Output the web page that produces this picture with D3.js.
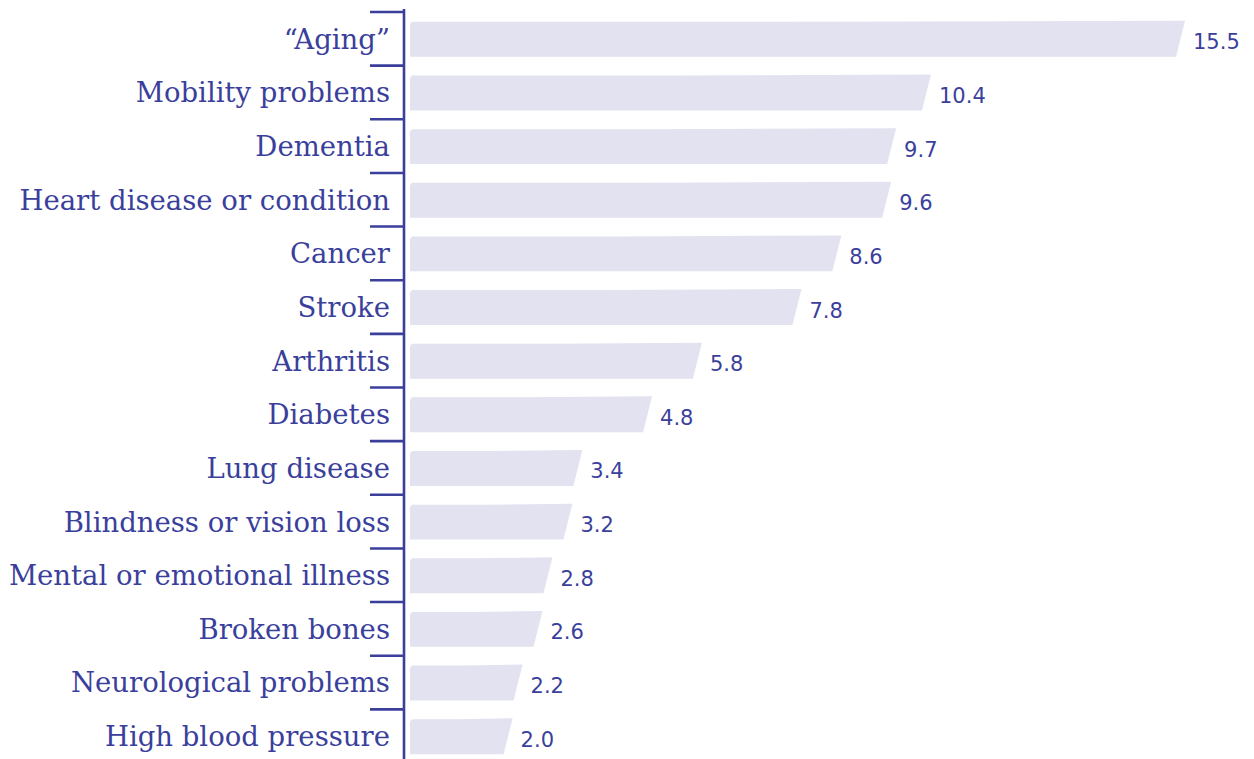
<!DOCTYPE html>
<html>
<head>
<meta charset="utf-8">
<script src="https://cdn.jsdelivr.net/npm/d3@7/dist/d3.min.js"></script>
<style>
  html, body { margin: 0; padding: 0; background: #ffffff; }
  svg { display: block; }
</style>
</head>
<body>
<svg id="chart" width="1254" height="759"></svg>
<script>
const categories = [
  "\u201cAging\u201d",
  "Mobility problems",
  "Dementia",
  "Heart disease or condition",
  "Cancer",
  "Stroke",
  "Arthritis",
  "Diabetes",
  "Lung disease",
  "Blindness or vision loss",
  "Mental or emotional illness",
  "Broken bones",
  "Neurological problems",
  "High blood pressure"
];
const values = [15.5, 10.4, 9.7, 9.6, 8.6, 7.8, 5.8, 4.8, 3.4, 3.2, 2.8, 2.6, 2.2, 2.0];
const valueLabels = ["15.5", "10.4", "9.7", "9.6", "8.6", "7.8", "5.8", "4.8", "3.4", "3.2", "2.8", "2.6", "2.2", "2.0"];

const ink = "#3b3f9c";
const barFill = "#e2e2f0";

const svg = d3.select("#chart");

const x = d3.scaleLinear().domain([0, 15.5]).range([409, 1181]);
const pad = 0.33;
const y = d3.scaleBand().domain(categories).range([12, 763]).paddingInner(pad).paddingOuter(pad / 2);
const step = y.step();
const axisX = 404;

// bars
svg.append("g").selectAll("path")
  .data(categories)
  .join("path")
  .attr("fill", barFill)
  .attr("d", (c, i) => {
    const top = y(c), bot = y(c) + y.bandwidth();
    const x0 = x(0), xr = x(values[i]);
    return `M${x0 + 3},${top + 1} Q${x0},${top + 3} ${x0 + 1},${top + 8}` +
           ` L${x0 + 1},${bot} L${xr - 5},${bot} L${xr + 4},${top} L${(x0 + xr) / 2},${top + 1} Z`;
  });

// value labels
svg.append("g").selectAll("text")
  .data(categories)
  .join("text")
  .attr("x", (c, i) => x(values[i]) + 12)
  .attr("y", c => y(c) + y.bandwidth() / 2)
  .attr("dy", "0.5em")
  .attr("fill", ink)
  .attr("font-family", "DejaVu Sans, sans-serif")
  .attr("font-size", 21)
  .text((c, i) => valueLabels[i]);

// axis line and ticks at band boundaries
const axis = svg.append("g").attr("stroke", ink).attr("stroke-width", 2.6);
const boundaries = categories.map(c => y(c) - step * pad / 2).concat([y(categories[categories.length - 1]) - step * pad / 2 + step]);
axis.append("line")
  .attr("x1", axisX).attr("x2", axisX)
  .attr("y1", boundaries[0] - 3).attr("y2", 762);
axis.selectAll("line.tick")
  .data(boundaries)
  .join("line")
  .attr("class", "tick")
  .attr("x1", axisX - 34).attr("x2", axisX)
  .attr("y1", d => d).attr("y2", d => d);

// category labels
svg.append("g").selectAll("text")
  .data(categories)
  .join("text")
  .attr("x", 390)
  .attr("y", c => y(c) + y.bandwidth() / 2)
  .attr("dy", "0.36em")
  .attr("text-anchor", "end")
  .attr("fill", ink)
  .attr("font-family", "DejaVu Serif, serif")
  .attr("font-size", 27.5)
  .text(c => c);
</script>
</body>
</html>
